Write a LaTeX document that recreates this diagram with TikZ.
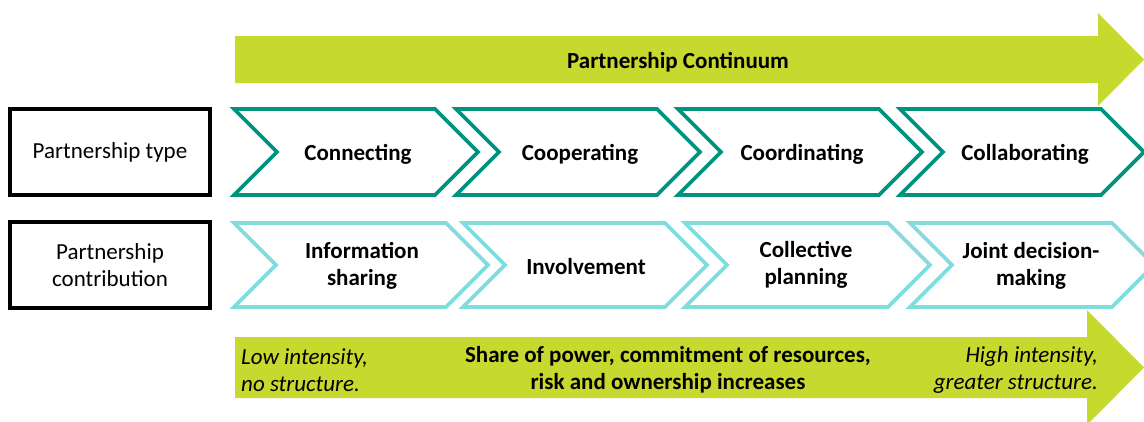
\documentclass[tikz,border=0pt]{standalone}
\usepackage{fontspec}
\setmainfont{Carlito}
\definecolor{ctgreen}{RGB}{197,217,46}
\definecolor{ctdarkteal}{RGB}{0,148,127}
\definecolor{ctlightteal}{RGB}{128,221,222}
\begin{document}
\begin{tikzpicture}[x=1pt, y=-1pt,
    every node/.style={font=\fontsize{23}{27}\selectfont, inner sep=0pt},
    chevlabel/.style={font=\fontsize{23}{27}\selectfont\bfseries, align=center},
    sidebox/.style={draw=black, line width=4pt, minimum width=200pt,
        minimum height=86pt, align=center}]
    \useasboundingbox (0,0) rectangle (1144,421);
    \clip (0,0) rectangle (1144,421);
    % the two big arrows
    \fill[fill=ctgreen]
        (235,36)--(1098,36)--(1098,13)--(1144,59.5)--(1098,106)--(1098,83)--(235,83)--cycle;
    \fill[fill=ctgreen]
        (235,337)--(1087,337)--(1087,310)--(1144,367.5)--(1087,425)--(1087,398)--(235,398)--cycle;
    \node[chevlabel] (continuum) at (678,62) {Partnership Continuum};
    % row labels
    \node[sidebox] (typebox) at (110,152) {Partnership type};
    \node[sidebox] (contribbox) at (110,265) {Partnership\\contribution};
    \begin{scope}[line width=3.6pt, line join=miter]
    \draw[draw=ctdarkteal, fill=white]
        (234,109)--(435,109)--(478,152)--(435,195)--(234,195)--(277,152)--cycle
        (456,109)--(657,109)--(700,152)--(657,195)--(456,195)--(499,152)--cycle
        (678,109)--(879,109)--(922,152)--(879,195)--(678,195)--(721,152)--cycle
        (900,109)--(1101,109)--(1144,152)--(1101,195)--(900,195)--(943,152)--cycle;
    \draw[draw=ctlightteal, fill=white]
        (234,223)--(446,223)--(488,265)--(446,307)--(234,307)--(276,265)--cycle
        (463,223)--(665,223)--(707,265)--(665,307)--(463,307)--(505,265)--cycle
        (685,223)--(888,223)--(930,265)--(888,307)--(685,307)--(727,265)--cycle
        (910,223)--(1112,223)--(1154,265)--(1112,307)--(910,307)--(952,265)--cycle;
    \end{scope}
    % partnership types
    \node[chevlabel] (connecting) at (358,154) {Connecting};
    \node[chevlabel] (cooperating) at (580,154) {Cooperating};
    \node[chevlabel] (coordinating) at (802,154) {Coordinating};
    \node[chevlabel] (collaborating) at (1025,154) {Collaborating};
    % contributions
    \node[chevlabel] (information) at (362,266) {Information\\sharing};
    \node[chevlabel] (involvement) at (586,267) {Involvement};
    \node[chevlabel] (planning) at (806,265) {Collective\\planning};
    \node[chevlabel] (decision) at (1031,266) {Joint decision-\\making};
    % bottom arrow texts
    \node[anchor=west, align=left, font=\fontsize{23}{27}\selectfont\itshape]
        (lowint) at (241,370) {Low intensity,\\no structure.};
    \node[chevlabel] (share) at (668,370)
        {Share of power, commitment of resources,\\risk and ownership increases};
    \node[anchor=east, align=right, font=\fontsize{23}{27}\selectfont\itshape]
        (highint) at (1098,370) {High intensity,\\greater structure.};
\end{tikzpicture}
\end{document}
